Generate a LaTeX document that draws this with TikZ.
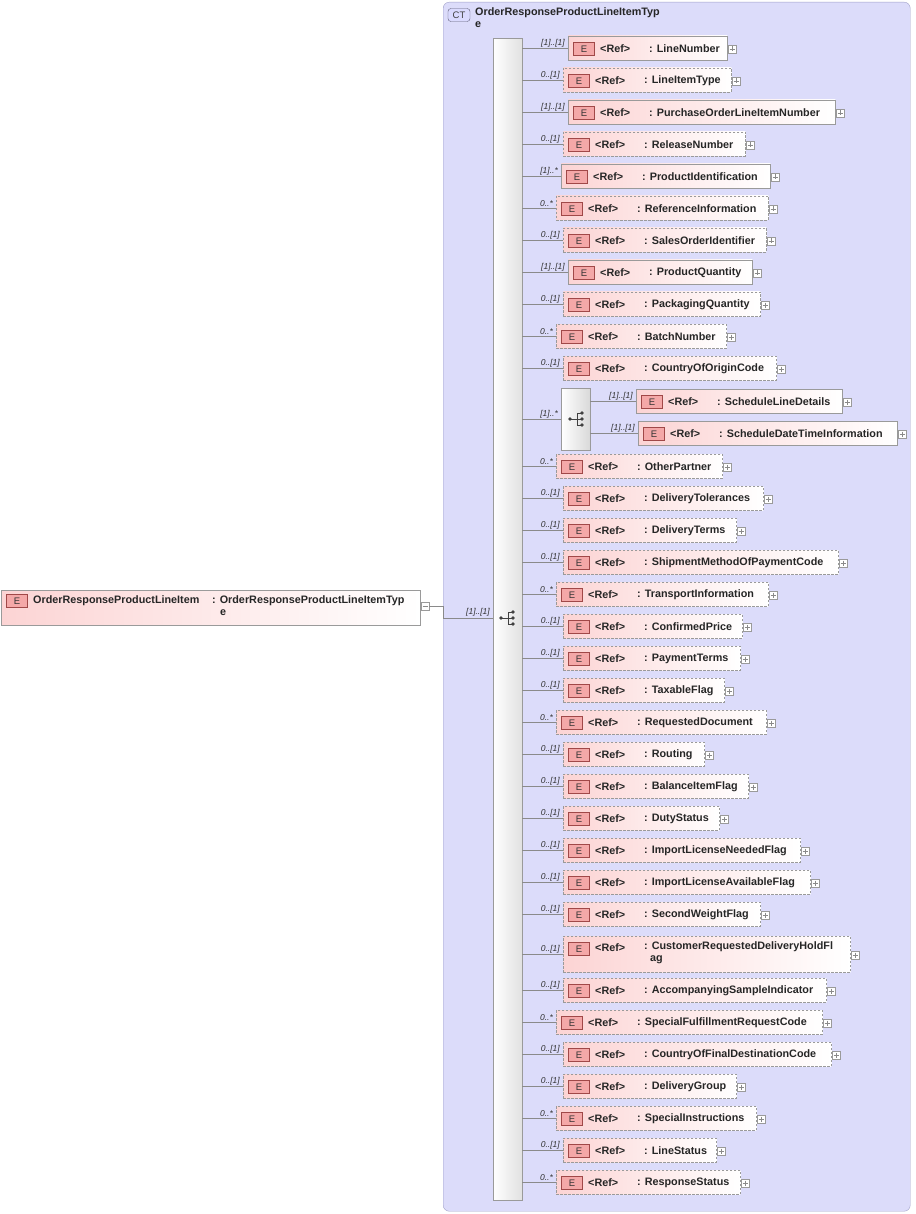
\documentclass[tikz,border=0pt]{standalone}
\usepackage{fontspec}
\setmainfont{Liberation Sans}
\begin{document}
\definecolor{ctfill}{HTML}{DCDCFA}
\definecolor{ctline}{HTML}{A0A0C8}
\definecolor{epink}{HTML}{FCD4D4}
\definecolor{ebadge}{HTML}{F4A8A8}
\definecolor{ebline}{HTML}{A04848}
\definecolor{boxline}{HTML}{9A9A9A}
\definecolor{conn}{HTML}{8A8A8A}
\begin{tikzpicture}[x=1pt,y=-1pt,
  base/.style={draw=boxline,line width=0.6pt,left color=epink,right color=white,inner sep=0pt,anchor=west,minimum height=24pt},
  S/.style={base},
  D/.style={base,dashed,dash pattern=on 2.5pt off 1.5pt},
  badge/.style={draw=ebline,fill=ebadge,line width=0.6pt,minimum width=21pt,minimum height=13pt,inner sep=0pt,font=\fontsize{9.5}{10}\selectfont,text=black!80},
  lbl/.style={font=\fontsize{10.8}{12}\selectfont\bfseries,text=black!85,inner sep=0pt,anchor=west},
  card/.style={font=\fontsize{8.5}{9}\selectfont\itshape,text=black!80,inner sep=0pt,anchor=south east},
  plus/.style={draw=boxline,fill=white,line width=0.5pt,minimum size=8pt,inner sep=0pt},
  line/.style={draw=conn,line width=0.6pt}]
\useasboundingbox (0,0) rectangle (915,1214);
% complex type container
\node[draw=ctline,fill=ctfill,rounded corners=6pt,minimum width=467pt,minimum height=1209pt,inner sep=0pt,anchor=north west] (ct) at (443,2) {};
\node[draw=ctline!60!black,fill=ctfill!60!blue!30,rounded corners=3pt,minimum width=22pt,minimum height=13pt,inner sep=0pt,font=\fontsize{9.5}{10}\selectfont,text=black!75] (ctb) at (459,15) {CT};
\node[lbl,anchor=north west,align=left,font=\fontsize{10.8}{12}\selectfont\bfseries] (ctname) at (475,7) {OrderResponseProductLineItemTyp\\e};
% main sequence bar
\node[draw=boxline,left color=white,right color=black!12,minimum width=29pt,minimum height=1162pt,inner sep=0pt,anchor=north west] (seq) at (493,38) {};
% root element
\node[base,minimum width=419pt,minimum height=35pt] (root) at (1,607.5) {};
\node[badge] (rootb) at (17,601) {E};
\node[lbl,anchor=north west] (rootn) at (33,595) {OrderResponseProductLineItem};
\node[lbl,anchor=north west,align=left,font=\fontsize{10.8}{12}\selectfont\bfseries] (roott) at (212,595) {: OrderResponseProductLineItemTyp\\\hspace*{8pt}e};
\node[plus] (rootm) at (425,606) {};
\draw[line] (rootm.center) +(-2.5,0) -- +(2.5,0);
\coordinate (j1) at (443,606);
\draw[line] (rootm.east) -- (j1) |- (seq.west |- 0,618);
\node[card] at (490,616) {[1]..[1]};
% sequence icons
\newcommand{\seqicon}[2]{%
 \fill[black!75] (#1-6,#2) circle (1.8pt);
 \draw[black!75,line width=0.8pt] (#1-6,#2) -- (#1+1,#2) (#1+1,#2-6) -- (#1+1,#2+6) (#1+1,#2-6) -- (#1+5,#2-6) (#1+1,#2) -- (#1+5,#2) (#1+1,#2+6) -- (#1+5,#2+6);
 \fill[black!75] (#1+6,#2-6) circle (1.8pt) (#1+6,#2) circle (1.8pt) (#1+6,#2+6) circle (1.8pt);}
\seqicon{507}{618}
% elements
\foreach \n/\y/\l/\r/\s/\c/\t in {
 a/48/568/727/S/{[1]..[1]}/LineNumber,
 b/80/563/731/D/{0..[1]}/LineItemType,
 c/112/568/835/S/{[1]..[1]}/PurchaseOrderLineItemNumber,
 d/144/563/745/D/{0..[1]}/ReleaseNumber,
 e/176/561/770/S/{[1]..*}/ProductIdentification,
 f/208/556/768/D/{0..*}/ReferenceInformation,
 g/240/563/766/D/{0..[1]}/SalesOrderIdentifier,
 h/272/568/752/S/{[1]..[1]}/ProductQuantity,
 i/304/563/760/D/{0..[1]}/PackagingQuantity,
 j/336/556/726/D/{0..*}/BatchNumber,
 k/368/563/776/D/{0..[1]}/CountryOfOriginCode,
 m/466/556/722/D/{0..*}/OtherPartner,
 n/498/563/763/D/{0..[1]}/DeliveryTolerances,
 o/530/563/736/D/{0..[1]}/DeliveryTerms,
 p/562/563/838/D/{0..[1]}/ShipmentMethodOfPaymentCode,
 q/594/556/768/D/{0..*}/TransportInformation,
 r/626/563/742/D/{0..[1]}/ConfirmedPrice,
 s/658/563/740/D/{0..[1]}/PaymentTerms,
 t/690/563/724/D/{0..[1]}/TaxableFlag,
 u/722/556/766/D/{0..*}/RequestedDocument,
 v/754/563/704/D/{0..[1]}/Routing,
 w/786/563/748/D/{0..[1]}/BalanceItemFlag,
 x/818/563/719/D/{0..[1]}/DutyStatus,
 y/850/563/800/D/{0..[1]}/ImportLicenseNeededFlag,
 z/882/563/810/D/{0..[1]}/ImportLicenseAvailableFlag,
 aa/914/563/760/D/{0..[1]}/SecondWeightFlag,
 ac/990/563/826/D/{0..[1]}/AccompanyingSampleIndicator,
 ad/1022/556/822/D/{0..*}/SpecialFulfillmentRequestCode,
 ae/1054/563/831/D/{0..[1]}/CountryOfFinalDestinationCode,
 af/1086/563/736/D/{0..[1]}/DeliveryGroup,
 ag/1118/556/756/D/{0..*}/SpecialInstructions,
 ah/1150/563/716/D/{0..[1]}/LineStatus,
 ai/1182/556/740/D/{0..*}/ResponseStatus}{
 \pgfmathsetmacro{\w}{\r-\l}
 \node[\s,minimum width=\w pt] (e\n) at (\l,\y) {};
 \node[badge] at (\l+16,\y+1) {E};
 \node[lbl] at (\l+32,\y+1) {<Ref>};
 \node[lbl] at (\l+81,\y+1) {: \t};
 \node[plus] (p\n) at (\r+5,\y+1) {};
 \draw[line] (p\n.center) +(-2.5,0) -- +(2.5,0) (p\n.center) +(0,-2.5) -- +(0,2.5);
 \draw[line] (seq.east |- e\n.west) -- (e\n.west);
 \node[card] at (\l-3,\y-1) {\c};
}
% two-line element
\node[D,minimum width=287pt,minimum height=36pt] (eab) at (563,954) {};
\node[badge] at (579,949) {E};
\node[lbl] at (595,948) {<Ref>};
\node[lbl,anchor=north west,align=left,font=\fontsize{10.8}{12}\selectfont\bfseries] at (644,941) {: CustomerRequestedDeliveryHoldFl\\\hspace*{6pt}ag};
\node[plus] (pab) at (855,955) {};
\draw[line] (pab.center) +(-2.5,0) -- +(2.5,0) (pab.center) +(0,-2.5) -- +(0,2.5);
\draw[line] (seq.east |- eab.west) -- (eab.west);
\node[card] at (560,953) {0..[1]};
% nested sequence
\node[draw=boxline,left color=white,right color=black!15,minimum width=29pt,minimum height=62pt,inner sep=0pt,anchor=west] (sq2) at (561,419) {};
\seqicon{576}{419}
\draw[line] (seq.east |- sq2.west) -- (sq2.west);
\node[card] at (558,418) {[1]..*};
\foreach \n/\y/\l/\r/\t in {sa/401/636/842/ScheduleLineDetails, sb/433/638/897/ScheduleDateTimeInformation}{
 \pgfmathsetmacro{\w}{\r-\l}
 \node[S,minimum width=\w pt] (e\n) at (\l,\y) {};
 \node[badge] at (\l+16,\y+1) {E};
 \node[lbl] at (\l+32,\y+1) {<Ref>};
 \node[lbl] at (\l+81,\y+1) {: \t};
 \node[plus] (p\n) at (\r+5,\y+1) {};
 \draw[line] (p\n.center) +(-2.5,0) -- +(2.5,0) (p\n.center) +(0,-2.5) -- +(0,2.5);
 \draw[line] (sq2.east |- e\n.west) -- (e\n.west);
 \node[card] at (\l-3,\y-1) {[1]..[1]};
}
\end{tikzpicture}
\end{document}
